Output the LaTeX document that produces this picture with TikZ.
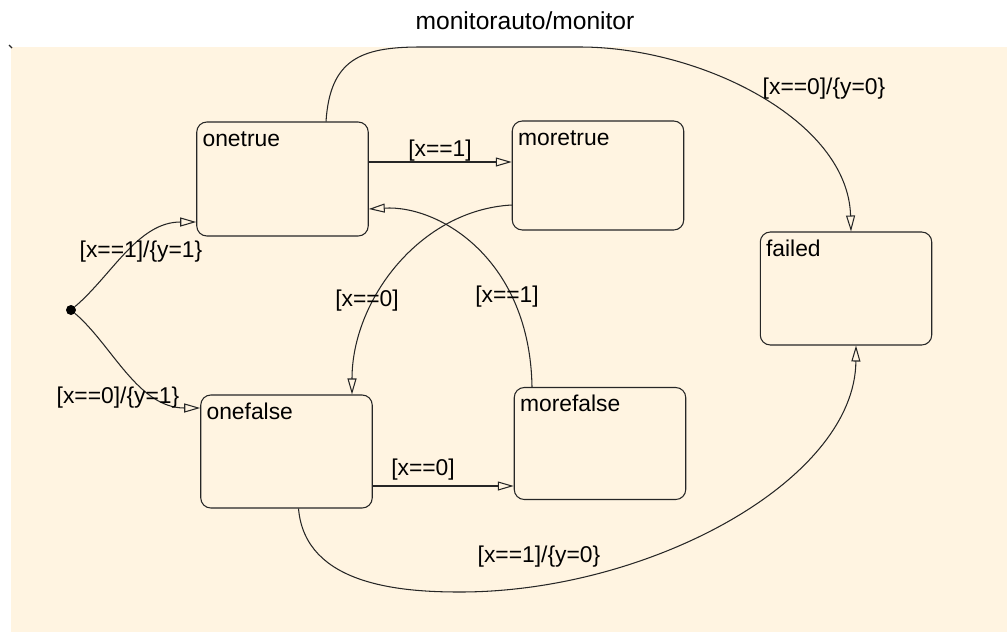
\documentclass[tikz,border=0pt]{standalone}
\usepackage{fontspec}
\setmainfont{Liberation Sans}
\usetikzlibrary{arrows.meta, calc}
\definecolor{ChartPeach}{HTML}{FFF4E1}
\definecolor{InkGray}{HTML}{262626}

\begin{document}
\begin{tikzpicture}[x=0.02cm, y=-0.02cm,
      state/.style={draw=InkGray, line width=0.6pt, rounded corners=0.2cm,
                    minimum width=3.43cm, inner sep=0pt},
      sname/.style={anchor=base west, inner sep=0pt, xshift=0.12cm, yshift=-0.5cm,
                    font=\fontsize{13}{15}\selectfont},
      statename/.style={label={[sname]north west:#1}},
      lbl/.style={inner sep=0pt, font=\fontsize{13}{15}\selectfont},
      trans/.style={draw=InkGray, line width=0.6pt,
                    -{Triangle[open, length=0.32cm, width=0.18cm]}}]
    \useasboundingbox (0,0) rectangle (1007,632);
    \fill[ChartPeach] (11,47) rectangle (1007,632);
    \draw[InkGray, line width=0.8pt] (9,45) -- (12,48);
    \node[font=\fontsize{14}{16}\selectfont] (title) at (525,21) {monitorauto/monitor};

    \node[state, statename=onetrue, minimum height=2.28cm] (onetrue) at (282.5,179) {};
    \node[state, statename=moretrue, minimum height=2.18cm] (moretrue) at (598,175.5) {};
    \node[state, statename=failed, minimum height=2.26cm] (failed) at (846,288.5) {};
    \node[state, statename=onefalse, minimum height=2.26cm] (onefalse) at (286.5,451.5) {};
    \node[state, statename=morefalse, minimum height=2.24cm] (morefalse) at (600,443.5) {};
    \node[circle, fill=black, inner sep=0pt, minimum size=0.2cm] (init) at (71,310) {};

    \draw[trans] (init) .. controls (112,275) and (138,222) .. ($(onetrue.west)+(0,43)$);
    \draw[trans] (init) .. controls (112,345) and (138,408) .. ($(onefalse.west)+(0,-43.5)$);
    \draw[trans] ($(onetrue.east)+(0,-17)$) -- ($(moretrue.west)+(0,-13.5)$);
    \draw[trans] ($(morefalse.north)+(-68,0)$) .. controls (530,260) and (440,205)
                 .. ($(onetrue.east)+(0,30)$);
    \draw[trans] ($(moretrue.west)+(0,29.5)$) .. controls (420,210) and (352,300)
                 .. ($(onefalse.north)+(65.5,0)$);
    \draw[trans] ($(onefalse.east)+(0,34.5)$) -- ($(morefalse.west)+(0,42.5)$);
    \draw[trans] ($(onetrue.north)+(43.5,0)$) .. controls (330,60) and (360,47) .. (420,47)
                 -- (580,47) .. controls (700,47) and (848,120) .. ($(failed.north)+(5,0)$);
    \draw[trans] ($(onefalse.south)+(12,0)$) .. controls (305,585) and (400,592) .. (460,592)
                 .. controls (650,592) and (855,480) .. ($(failed.south)+(10,0)$);

    \node[lbl] (l1) at (141,252) {[x==1]/\{y=1\}};
    \node[lbl] (l2) at (118,398) {[x==0]/\{y=1\}};
    \node[lbl] (l3) at (440,151) {[x==1]};
    \node[lbl] (l4) at (367,301) {[x==0]};
    \node[lbl] (l5) at (507,297) {[x==1]};
    \node[lbl] (l6) at (423,470) {[x==0]};
    \node[lbl] (l7) at (824,89) {[x==0]/\{y=0\}};
    \node[lbl] (l8) at (539,557) {[x==1]/\{y=0\}};
  \end{tikzpicture}
\end{document}
